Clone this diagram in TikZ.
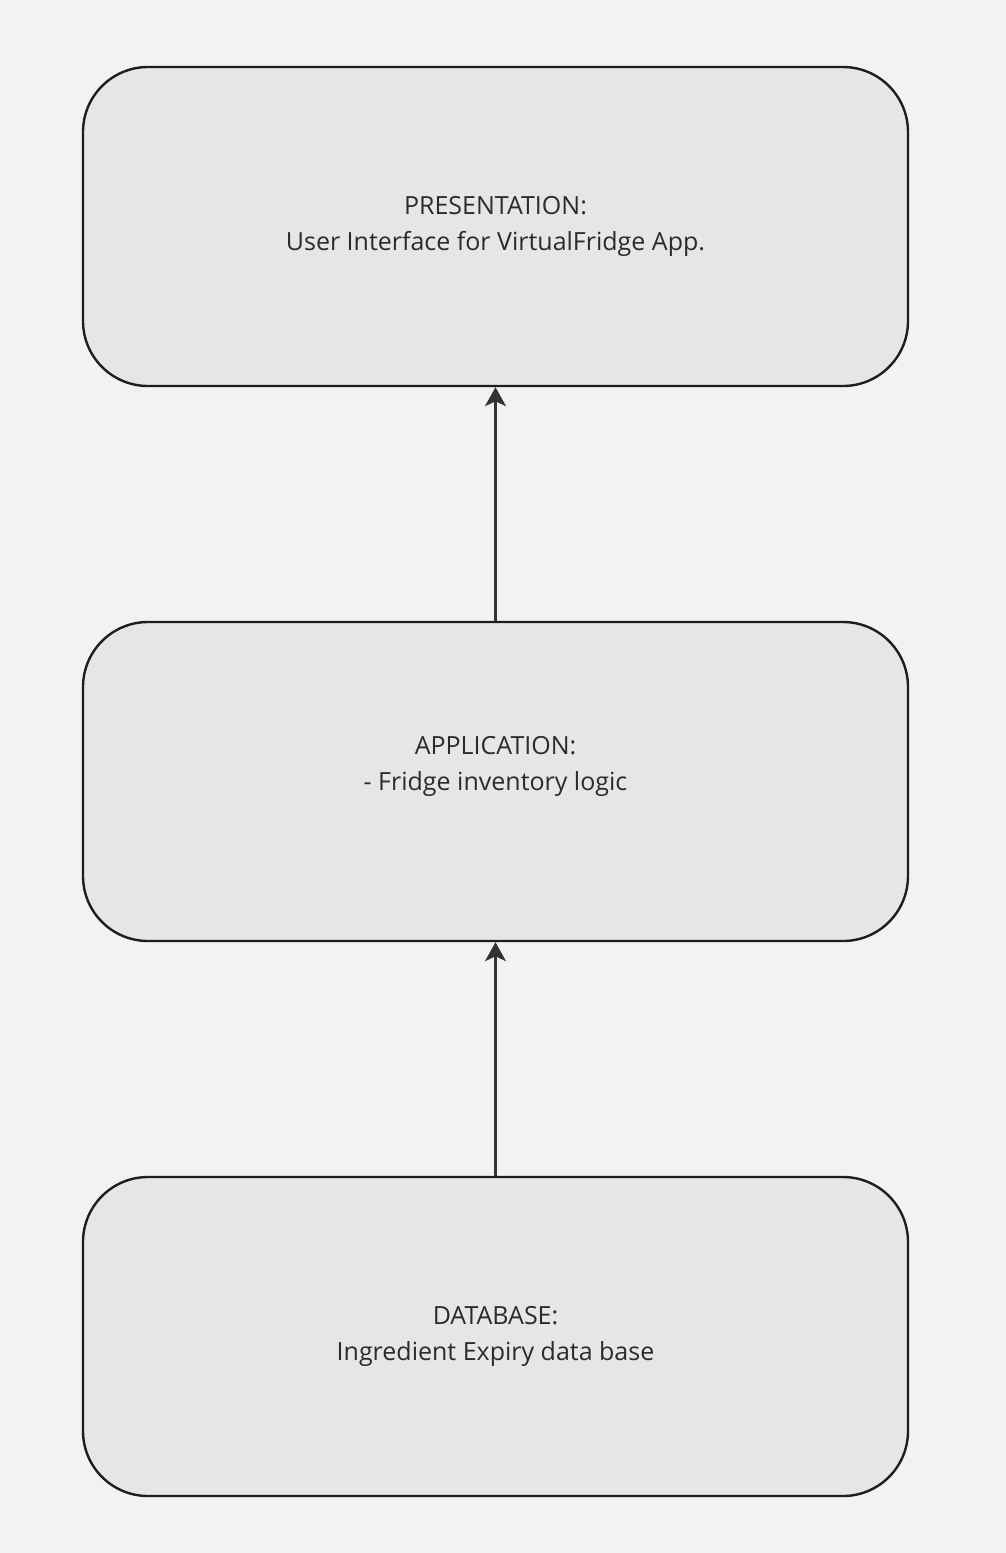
\documentclass[tikz,border=0pt]{standalone}
\usepackage{fontspec}
\setmainfont{Open Sans}
\usetikzlibrary{positioning,arrows.meta}
\definecolor{bgcol}{HTML}{F2F2F2}
\definecolor{boxfill}{HTML}{E6E6E6}
\definecolor{boxline}{HTML}{1E1E1E}
\definecolor{arrcol}{HTML}{333333}
\definecolor{txtcol}{HTML}{2B2B2B}
\tikzset{
  layer/.style={draw=boxline, fill=boxfill, line width=2.4pt, rounded corners=65pt,
    minimum width=825pt, minimum height=319pt, align=center, text=txtcol,
    font=\fontsize{25pt}{36pt}\selectfont},
  uparrow/.style={draw=arrcol, line width=2.6pt, -{Stealth[length=19pt,width=21pt,inset=5pt]}}
}
\begin{document}
\begin{tikzpicture}[x=1pt,y=-1pt,node distance=233.6pt]
\fill [bgcol] (0,0) rectangle (1006,1553);
\useasboundingbox (0,0) rectangle (1006,1553);
\node [layer] (pres) at (495.5,226.5) {PRESENTATION:\\User Interface for VirtualFridge App.};
\node [layer, below=of pres] (appl) {APPLICATION:\\- Fridge inventory logic\\~};
\node [layer, below=of appl] (dbase) {DATABASE:\\Ingredient Expiry data base};
\draw [uparrow] (appl.north) -- (pres.south);
\draw [uparrow] (dbase.north) -- (appl.south);
\end{tikzpicture}
\end{document}
